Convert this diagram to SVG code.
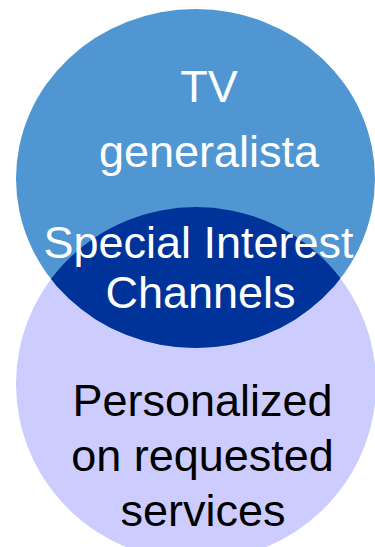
<svg xmlns="http://www.w3.org/2000/svg" width="375" height="547" viewBox="0 0 375 547">
  <style>
    .lbl { font-family: "Liberation Sans", Arial, sans-serif; font-size: 45px; text-anchor: middle; }
    .light { fill: #ffffff; }
    .dark { fill: #000000; }
  </style>
  <defs>
    <clipPath id="clip-top">
      <ellipse cx="195.5" cy="178.5" rx="179.5" ry="169.5"/>
    </clipPath>
  </defs>
  <rect width="375" height="547" fill="#ffffff"/>

  <!-- lower set -->
  <g id="personalized">
    <ellipse cx="196" cy="384" rx="180" ry="177" fill="#ccccff"/>
  </g>

  <!-- upper set -->
  <g id="tv-generalista">
    <ellipse cx="195.5" cy="178.5" rx="179.5" ry="169.5" fill="#5096d2"/>
  </g>

  <!-- overlap of the two sets -->
  <g id="special-interest">
    <ellipse cx="196" cy="384" rx="180" ry="177" fill="#003399" clip-path="url(#clip-top)"/>
  </g>

  <g id="labels">
    <text class="lbl light" x="209" y="102">TV</text>
    <text class="lbl light" x="209" y="167">generalista</text>
    <text class="lbl light" x="198.5" y="258">Special Interest</text>
    <text class="lbl light" x="200.5" y="308">Channels</text>
    <text class="lbl dark" x="202.5" y="416">Personalized</text>
    <text class="lbl dark" x="202.5" y="471">on requested</text>
    <text class="lbl dark" x="203" y="526">services</text>
  </g>
</svg>
